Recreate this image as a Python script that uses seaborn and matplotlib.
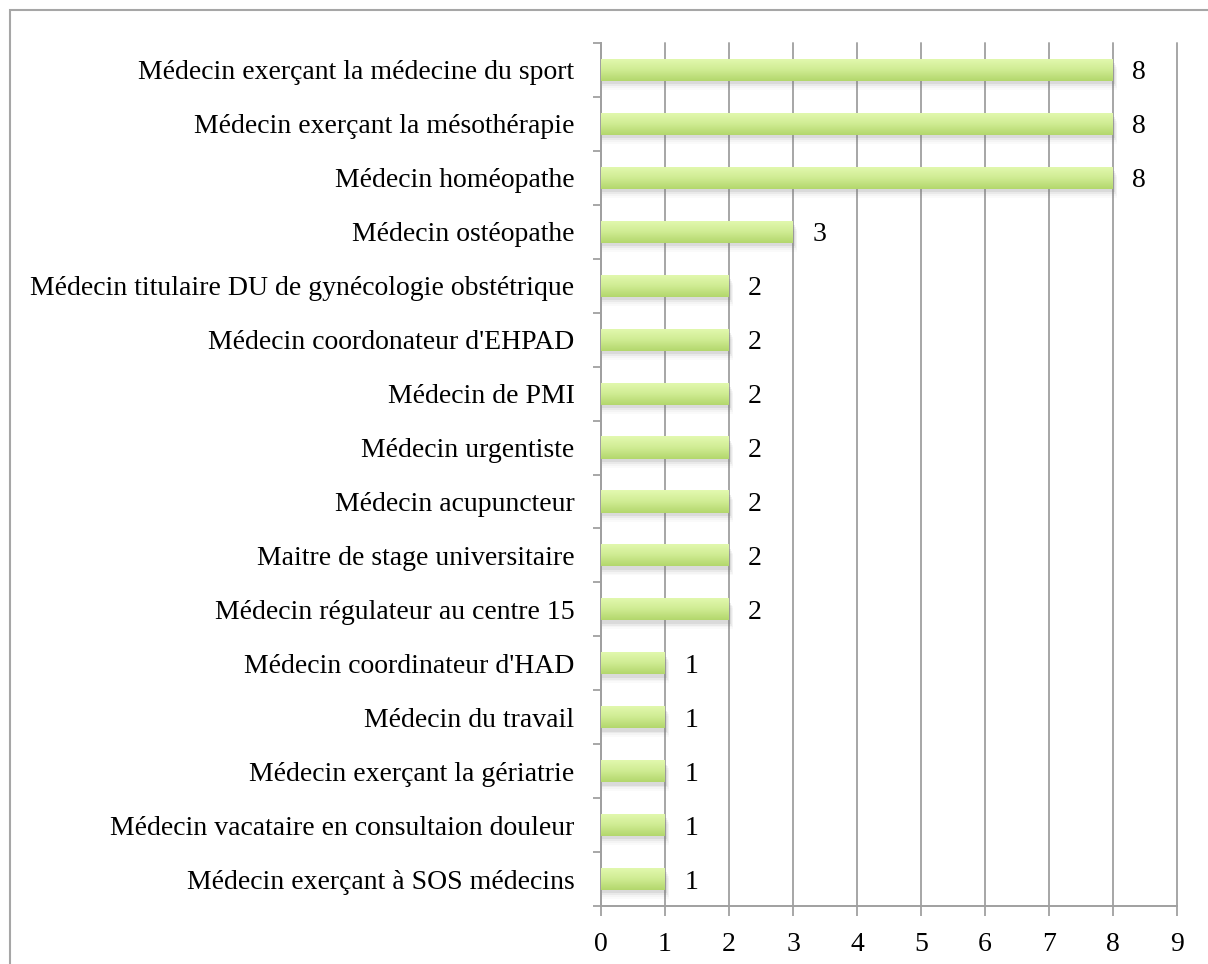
import matplotlib
matplotlib.use("Agg")
import matplotlib.pyplot as plt
import seaborn as sns
import numpy as np
import pandas as pd
from matplotlib.patches import Rectangle
from matplotlib.colors import LinearSegmentedColormap

categories = [
    "Médecin exerçant la médecine du sport",
    "Médecin exerçant la mésothérapie",
    "Médecin homéopathe",
    "Médecin ostéopathe",
    "Médecin titulaire DU de gynécologie obstétrique",
    "Médecin coordonateur d'EHPAD",
    "Médecin de PMI",
    "Médecin urgentiste",
    "Médecin acupuncteur",
    "Maitre de stage universitaire",
    "Médecin régulateur au centre 15",
    "Médecin coordinateur d'HAD",
    "Médecin du travail",
    "Médecin exerçant la gériatrie",
    "Médecin vacataire en consultaion douleur",
    "Médecin exerçant à SOS médecins",
]
values = [8, 8, 8, 3, 2, 2, 2, 2, 2, 2, 2, 1, 1, 1, 1, 1]
x_ticks = list(range(0, 10))

df = pd.DataFrame({"cat": categories, "val": values})

sns.set_style("white")
plt.rcParams["font.family"] = ["Liberation Serif", "DejaVu Serif"]
plt.rcParams["text.color"] = "black"
plt.rcParams["xtick.color"] = "#a0a0a0"
plt.rcParams["ytick.color"] = "#a0a0a0"
plt.rcParams["xtick.labelcolor"] = "black"
plt.rcParams["ytick.labelcolor"] = "black"

FS = 20

fig = plt.figure(figsize=(12.08, 9.64), dpi=100)
ax = fig.add_axes([601/1208, 1-906/964, (1177-601)/1208, (906-43)/964])

sns.barplot(data=df, y="cat", x="val", orient="h", ax=ax, width=0.41,
            color="#c8e68a", edgecolor="none", zorder=3)

n = len(categories)
ax.set_xlim(0, 9)
ax.set_ylim(n - 0.5, -0.5)

# gradient + soft shadow on bars
cmap = LinearSegmentedColormap.from_list("g", ["#e3f9b0", "#d0ec94", "#b3d76c"])
grad = np.linspace(0, 1, 64).reshape(-1, 1)
for p in list(ax.patches):
    x0, y0 = p.get_x(), p.get_y()
    w, h = p.get_width(), p.get_height()
    for k, a in enumerate([0.12, 0.08, 0.05, 0.03]):
        sh = Rectangle((x0 + 0.01, y0 + h*0.2 + k*0.035), w + 0.015*(k+1), h*0.95,
                       facecolor="#7a7a7a", alpha=a, edgecolor="none", zorder=2.5)
        ax.add_patch(sh)
    im = ax.imshow(grad, cmap=cmap, aspect="auto",
                   extent=[x0, x0 + w, y0 + h, y0], zorder=3.5)
    im.set_clip_path(p)
ax.set_xlim(0, 9)
ax.set_ylim(n - 0.5, -0.5)

for i, v in enumerate(values):
    ax.text(v + 0.3, i, str(v), va="center_baseline", ha="left", fontsize=FS, color="black")

ax.set_xticks(x_ticks)
ax.set_xticklabels([str(t) for t in x_ticks], fontsize=FS)
ax.set_xlabel("")
ax.set_ylabel("")
ax.tick_params(axis="y", which="major", left=True, length=0, labelsize=FS, pad=19)
ax.set_yticks(np.arange(-0.5, n, 1), minor=True)
ax.tick_params(axis="y", which="minor", left=True, length=6, width=1.3, direction="out")
ax.tick_params(axis="x", which="major", bottom=True, length=7, width=1.3, direction="out", pad=12)

ax.grid(axis="x", color="#a6a6a6", linewidth=1.4, zorder=0)
for gl in ax.get_xgridlines():
    gl.set_clip_on(False)
ax.grid(axis="y", visible=False)
ax.set_axisbelow(True)
for s in ["top", "right"]:
    ax.spines[s].set_visible(False)
for s in ["left", "bottom"]:
    ax.spines[s].set_color("#a0a0a0")
    ax.spines[s].set_linewidth(1.4)

# outer chart frame
fig.patches.append(Rectangle((10/1208, -0.02), 1.05, 1 - 10/964 + 0.02,
                             transform=fig.transFigure, fill=False,
                             edgecolor="#a6a6a6", linewidth=1.5))

fig.savefig("out.png", dpi=100)
